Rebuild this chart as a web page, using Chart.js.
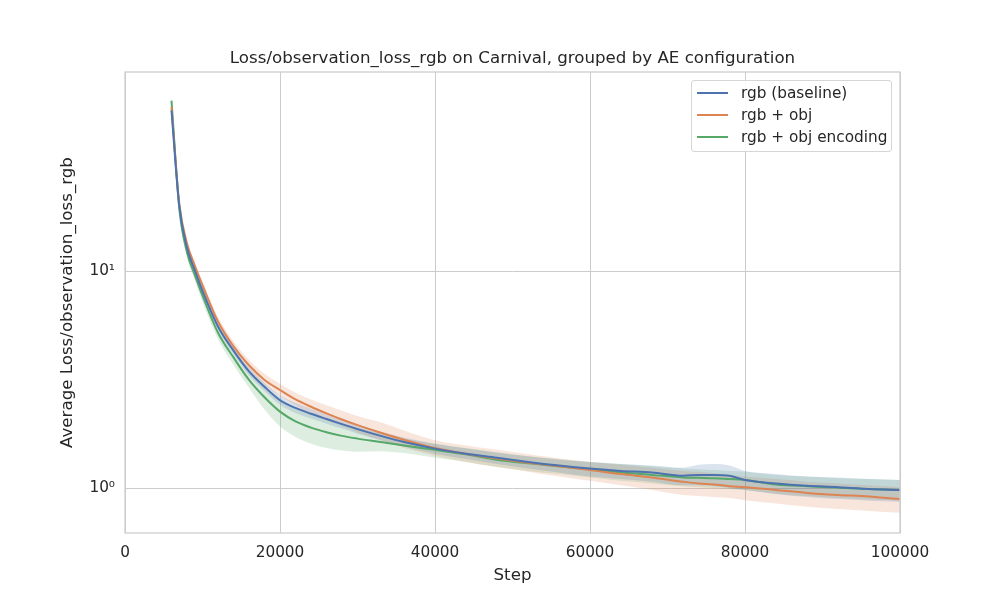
<!DOCTYPE html>
<html>
<head>
<meta charset="utf-8">
<script src="https://cdn.jsdelivr.net/npm/chart.js@4.4.1/dist/chart.umd.min.js"></script>
<style>
  body { margin: 0; background: #fff; }
  #wrap { position: relative; width: 1000px; height: 600px; }
  #title {
    position: absolute; left: 125px; width: 775px; top: 48px; line-height: 20px;
    text-align: center; font: 16.67px "DejaVu Sans", sans-serif; color: #262626; white-space: nowrap;
  }
  #legend {
    position: absolute; left: 691px; top: 80px; width: 199px; height: 70px;
    border: 1px solid #d6d6d6; border-radius: 3px; background: rgba(255,255,255,0.85);
    font: 15.3px "DejaVu Sans", sans-serif; color: #262626;
  }
  #legend .item { position: absolute; left: 5px; height: 20px; display: flex; align-items: center; white-space: nowrap; }
  #legend .sw { display: inline-block; width: 31px; height: 2px; margin-right: 13px; }
</style>
</head>
<body>
<div id="wrap">
  <canvas id="lossChart" width="1000" height="600"></canvas>
  <div id="title">Loss/observation_loss_rgb on Carnival, grouped by AE configuration</div>
  <div id="legend"></div>
</div>
<script>
// Loss curves (mean with spread band), log scale
const steps = [6000, 7000, 8000, 9000, 10000, 12000, 14000, 16000, 18000, 20000, 22000, 24000,
    26000, 28000, 30000, 33000, 36000, 40000, 44000, 48000, 52000, 56000, 60000, 64000,
    68000, 72000, 74000, 76000, 78000, 80000, 84000, 88000, 92000, 96000, 100000];

const seriesNames = ['rgb (baseline)', 'rgb + obj', 'rgb + obj encoding'];

const baselineMean = [55, 20, 12.8, 10.1, 8.1, 5.55, 4.3, 3.45, 2.93, 2.54, 2.34, 2.2,
    2.08, 1.97, 1.87, 1.74, 1.63, 1.52, 1.44, 1.38, 1.32, 1.27, 1.23, 1.2,
    1.18, 1.14, 1.15, 1.15, 1.14, 1.09, 1.05, 1.025, 1.01, 0.99, 0.98];
const baselineLow = [52, 19.4, 12.4, 9.8, 7.8, 5.35, 4.15, 3.3, 2.8, 2.42, 2.22, 2.09,
    1.98, 1.88, 1.78, 1.66, 1.55, 1.44, 1.36, 1.29, 1.23, 1.18, 1.13, 1.1,
    1.07, 1.03, 1.03, 1.02, 1.0, 0.98, 0.94, 0.91, 0.89, 0.875, 0.865];
const baselineHigh = [58, 20.6, 13.2, 10.4, 8.4, 5.75, 4.45, 3.6, 3.06, 2.68, 2.47, 2.32,
    2.19, 2.07, 1.96, 1.82, 1.71, 1.6, 1.52, 1.46, 1.4, 1.35, 1.32, 1.29,
    1.27, 1.24, 1.28, 1.29, 1.27, 1.2, 1.16, 1.13, 1.12, 1.1, 1.09];

const objMean = [57, 20.5, 13.4, 10.6, 8.6, 5.85, 4.5, 3.68, 3.15, 2.83, 2.56, 2.37,
    2.21, 2.07, 1.95, 1.8, 1.67, 1.53, 1.44, 1.37, 1.31, 1.26, 1.21, 1.16,
    1.12, 1.07, 1.05, 1.04, 1.02, 1.01, 0.98, 0.95, 0.93, 0.915, 0.89];
const objLow = [54, 19.8, 12.9, 10.2, 8.2, 5.55, 4.28, 3.48, 2.98, 2.66, 2.4, 2.21,
    2.06, 1.93, 1.81, 1.66, 1.53, 1.41, 1.32, 1.25, 1.19, 1.13, 1.08, 1.03,
    0.98, 0.93, 0.92, 0.91, 0.9, 0.88, 0.85, 0.82, 0.8, 0.785, 0.77];
const objHigh = [60, 21.2, 13.9, 11.0, 9.0, 6.15, 4.75, 3.9, 3.36, 3.02, 2.75, 2.56,
    2.41, 2.27, 2.15, 2.01, 1.84, 1.66, 1.57, 1.5, 1.43, 1.37, 1.32, 1.28,
    1.24, 1.2, 1.19, 1.17, 1.15, 1.13, 1.1, 1.07, 1.05, 1.03, 1.01];

const encMean = [61, 19.5, 12.2, 9.6, 7.7, 5.2, 4.0, 3.15, 2.62, 2.25, 2.03, 1.9,
    1.81, 1.74, 1.69, 1.63, 1.57, 1.5, 1.43, 1.35, 1.3, 1.26, 1.22, 1.18,
    1.15, 1.12, 1.115, 1.11, 1.1, 1.09, 1.04, 1.02, 1.005, 0.99, 0.98];
const encLow = [58, 18.5, 11.6, 9.1, 7.2, 4.85, 3.7, 2.9, 2.3, 1.92, 1.72, 1.6,
    1.53, 1.49, 1.47, 1.48, 1.45, 1.38, 1.32, 1.25, 1.2, 1.16, 1.12, 1.08,
    1.05, 1.02, 1.01, 1.0, 0.99, 0.98, 0.94, 0.92, 0.9, 0.885, 0.875];
const encHigh = [64, 20.5, 12.8, 10.1, 8.1, 5.5, 4.3, 3.45, 2.95, 2.6, 2.35, 2.2,
    2.08, 1.98, 1.9, 1.78, 1.69, 1.6, 1.53, 1.46, 1.4, 1.36, 1.32, 1.29,
    1.26, 1.23, 1.22, 1.21, 1.2, 1.19, 1.15, 1.13, 1.11, 1.1, 1.09];

const xTicks = [0, 20000, 40000, 60000, 80000, 100000];
const yTicks = [1, 10];
const yTickLabels = ['10\u2070', '10\u00b9'];

const colors = ['#4c72b0', '#dd8452', '#55a868'];
const bandColors = ['rgba(76,114,176,0.2)', 'rgba(221,132,82,0.2)', 'rgba(85,168,104,0.2)'];
const means = [baselineMean, objMean, encMean];
const lows = [baselineLow, objLow, encLow];
const highs = [baselineHigh, objHigh, encHigh];

const pts = arr => arr.map((v, i) => ({ x: steps[i], y: v }));
const textColor = '#262626';
const font = 'DejaVu Sans';

const datasets = [];
means.forEach((m, i) => {
    datasets.push({
        label: seriesNames[i], data: pts(m), borderColor: colors[i], borderWidth: 2,
        pointRadius: 0, fill: false, cubicInterpolationMode: 'monotone', order: 0
    });
});
means.forEach((m, i) => {
    datasets.push({
        label: 'band-hi', data: pts(highs[i]), borderWidth: 0, pointRadius: 0,
        backgroundColor: bandColors[i], fill: { target: '+1' },
        cubicInterpolationMode: 'monotone', order: 1
    });
    datasets.push({
        label: 'band-lo', data: pts(lows[i]), borderWidth: 0, pointRadius: 0,
        fill: false, cubicInterpolationMode: 'monotone', order: 1
    });
});

// light grey frame round the plot area
const frame = {
    id: 'frame',
    afterDraw(chart) {
        const a = chart.chartArea, c = chart.ctx;
        c.save();
        c.strokeStyle = '#cccccc';
        c.lineWidth = 1.25;
        c.strokeRect(a.left, a.top, a.right - a.left, a.bottom - a.top);
        c.restore();
    }
};

const ctx = document.getElementById('lossChart').getContext('2d');
const lossChart = new Chart(ctx, {
    type: 'line',
    data: { datasets: datasets },
    plugins: [frame],
    options: {
        responsive: false,
        animation: false,
        layout: { padding: { left: 0, right: 100, top: 72, bottom: 0 } },
        plugins: {
            legend: { display: false },
            tooltip: { enabled: false },
            filler: { drawTime: 'beforeDatasetsDraw' }
        },
        scales: {
            x: {
                type: 'linear', min: 0, max: 100000,
                afterBuildTicks: s => { s.ticks = xTicks.map(v => ({ value: v })); },
                afterFit: s => { s.height = 67; },
                ticks: { color: textColor, font: { family: font, size: 15.3 }, padding: 11,
                    maxRotation: 0, callback: v => String(v) },
                grid: { color: '#cccccc', lineWidth: 1, drawTicks: false },
                border: { display: false },
                title: { display: true, text: 'Step', color: textColor,
                    font: { family: font, size: 16.67 }, padding: { top: 6, bottom: 14 } }
            },
            y: {
                type: 'logarithmic', min: 0.621, max: 82.6, bounds: 'data',
                afterBuildTicks: s => {
                    s.ticks = yTicks.map(v => ({ value: v }));
                    s.min = 0.621;
                    s.max = 82.6;
                },
                afterFit: s => { s.width = 125; },
                ticks: {
                    color: textColor, font: { family: font, size: 15.3 }, padding: 10,
                    callback: v => yTickLabels[yTicks.indexOf(v)]
                },
                grid: { color: '#cccccc', lineWidth: 1, drawTicks: false },
                border: { display: false },
                title: { display: true, text: 'Average Loss/observation_loss_rgb', color: textColor,
                    font: { family: font, size: 16.67 }, padding: { top: 58, bottom: 0 } }
            }
        }
    }
});

// legend inside the plot, top right
const legend = document.getElementById('legend');
seriesNames.forEach((name, i) => {
    const item = document.createElement('div');
    item.className = 'item';
    item.style.top = [2, 24, 46][i] + 'px';
    item.innerHTML = '<span class="sw" style="background:' + colors[i] + '"></span>' + name;
    legend.appendChild(item);
});
</script>
</body>
</html>
